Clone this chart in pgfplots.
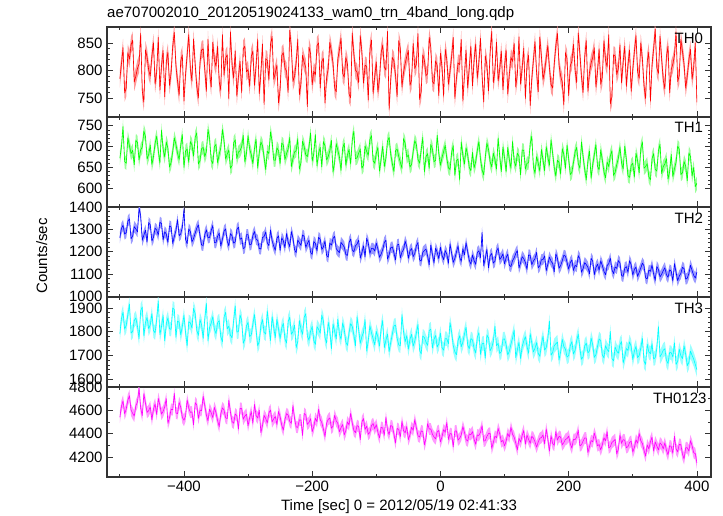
\documentclass[border=0pt]{standalone}
\usepackage{fontspec}
\setmainfont{Liberation Sans}
\usepackage{pgfplots}
\pgfplotsset{compat=1.18}
\usepgfplotslibrary{fillbetween}
\usepackage{pgfplotstable}
\pgfplotstableread{
t a b c d e
-500 785 672 1262 1790 4540
-497.5 812 699 1304 1855 4635
-495 842 748 1318 1882 4680
-492.5 759 664 1279 1811 4570
-490 768 660 1285 1826 4612
-487.5 833 721 1336 1872 4688
-485 821 702 1347 1915 4725
-482.5 847 683 1258 1794 4602
-480 856 691 1270 1801 4575
-477.5 779 656 1312 1847 4551
-475 790 715 1302 1858 4640
-472.5 804 710 1289 1823 4671
-470 812 668 1395 1770 4790
-467.5 868 692 1361 1888 4619
-465 763 699 1251 1904 4555
-462.5 742 737 1274 1782 4742
-460 838 724 1296 1839 4662
-457.5 825 670 1243 1860 4583
-455 801 681 1330 1812 4598
-452.5 790 703 1320 1829 4630
-450 827 657 1248 1876 4520
-447.5 851 676 1265 1804 4611
-445 775 708 1305 1795 4655
-442.5 798 725 1297 1851 4564
-440 861 690 1274 1930 4702
-437.5 764 660 1332 1787 4643
-435 809 739 1326 1822 4568
-432.5 837 694 1252 1868 4592
-430 752 675 1289 1761 4631
-427.5 816 711 1279 1834 4700
-425 834 696 1241 1858 4489
-422.5 773 651 1315 1812 4538
-420 796 662 1311 1810 4610
-417.5 845 688 1237 1899 4605
-415 870 721 1268 1893 4745
-412.5 808 705 1294 1776 4578
-410 781 684 1343 1844 4572
-407.5 755 669 1271 1840 4667
-405 818 703 1280 1787 4628
-402.5 829 729 1309 1822 4540
-400 744 650 1388 1869 4515
-397.5 793 689 1255 1797 4552
-395 829 694 1236 1740 4690
-392.5 866 662 1301 1842 4619
-390 803 712 1291 1837 4583
-387.5 781 704 1244 1815 4587
-385 858 677 1259 1898 4476
-382.5 812 722 1283 1876 4666
-380 771 733 1305 1806 4648
-377.5 750 658 1320 1784 4531
-375 815 666 1272 1851 4602
-372.5 838 695 1230 1829 4598
-370 840 698 1228 1772 4720
-367.5 802 676 1276 1853 4640
-365 762 688 1298 1920 4560
-362.5 857 741 1262 1763 4512
-360 797 719 1264 1818 4611
-357.5 770 667 1294 1836 4579
-355 852 659 1317 1863 4538
-352.5 819 700 1241 1809 4625
-350 808 705 1240 1792 4580
-347.5 845 661 1269 1838 4512
-345 779 682 1283 1846 4462
-342.5 764 697 1226 1779 4571
-340 866 741 1255 1757 4622
-337.5 792 715 1292 1861 4603
-335 823 670 1302 1881 4537
-332.5 829 682 1247 1812 4529
-330 748 692 1226 1823 4688
-327.5 871 648 1281 1785 4585
-325 811 654 1271 1774 4505
-322.5 786 709 1238 1847 4490
-320 836 716 1244 1908 4569
-317.5 753 671 1299 1798 4556
-315 789 687 1310 1801 4440
-312.5 817 690 1255 1870 4618
-310 760 700 1262 1850 4615
-307.5 840 727 1214 1751 4524
-305 845 663 1218 1768 4551
-302.5 798 684 1276 1824 4567
-300 802 726 1276 1839 4468
-297.5 771 694 1230 1779 4537
-295 826 681 1233 1786 4590
-292.5 836 659 1272 1832 4489
-290 773 695 1290 1872 4650
-287.5 809 718 1256 1808 4556
-285 857 648 1251 1740 4535
-282.5 758 686 1214 1759 4602
-280 795 711 1212 1826 4410
-277.5 849 702 1263 1851 4471
-275 738 674 1268 1797 4557
-272.5 822 645 1288 1790 4531
-270 819 689 1239 1888 4492
-267.5 783 683 1227 1822 4578
-265 848 735 1297 1763 4603
-262.5 863 713 1249 1864 4502
-260 784 668 1225 1818 4528
-257.5 796 667 1206 1775 4548
-255 810 697 1260 1853 4479
-252.5 741 690 1271 1811 4590
-250 765 659 1205 1771 4545
-247.5 828 708 1262 1816 4473
-245 833 704 1249 1835 4430
-242.5 805 669 1218 1770 4522
-240 799 683 1281 1752 4572
-237.5 760 694 1243 1842 4561
-235 874 722 1222 1861 4506
-232.5 843 652 1290 1789 4489
-230 780 671 1262 1800 4641
-227.5 790 687 1209 1827 4530
-225 814 690 1196 1733 4458
-222.5 857 719 1252 1758 4455
-220 756 646 1240 1847 4519
-217.5 776 661 1228 1811 4518
-215 828 713 1275 1789 4385
-212.5 815 700 1268 1860 4574
-210 806 680 1219 1876 4560
-207.5 734 676 1236 1781 4481
-205 843 698 1251 1764 4497
-202.5 831 733 1197 1802 4529
-200 774 665 1188 1822 4418
-197.5 799 683 1245 1763 4461
-195 792 729 1237 1746 4532
-192.5 846 654 1204 1821 4503
-190 851 684 1264 1810 4610
-187.5 768 698 1256 1794 4522
-185 817 651 1210 1869 4495
-182.5 823 712 1221 1845 4441
-180 741 702 1248 1775 4376
-177.5 787 668 1183 1752 4492
-175 803 676 1176 1839 4523
-172.5 852 690 1238 1806 4535
-170 835 715 1229 1728 4447
-167.5 814 639 1259 1833 4466
-165 769 662 1269 1801 4558
-162.5 761 707 1214 1770 4510
-160 822 691 1203 1853 4489
-157.5 838 675 1196 1789 4418
-155 860 643 1241 1768 4452
-152.5 795 696 1232 1837 4479
-150 788 708 1221 1809 4390
-147.5 824 655 1187 1756 4428
-145 812 680 1183 1742 4502
-142.5 757 693 1240 1796 4475
-140 750 658 1257 1834 4575
-137.5 869 716 1208 1822 4492
-135 830 737 1199 1786 4428
-132.5 801 671 1226 1741 4410
-130 797 673 1234 1863 4470
-127.5 778 684 1252 1808 4462
-125 864 694 1171 1751 4351
-122.5 835 648 1195 1779 4501
-120 777 655 1226 1797 4530
-117.5 810 702 1177 1851 4437
-115 808 688 1260 1718 4465
-112.5 746 679 1238 1762 4396
-110 839 717 1192 1825 4412
-107.5 856 726 1214 1795 4470
-105 758 666 1215 1770 4488
-102.5 789 660 1203 1744 4441
-100 816 684 1238 1801 4478
-97.5 761 698 1212 1778 4412
-95 785 641 1175 1739 4365
-92.5 833 670 1189 1812 4455
-90 847 701 1209 1847 4449
-87.5 806 652 1241 1733 4388
-85 801 672 1252 1764 4540
-82.5 872 713 1167 1790 4431
-80 729 722 1186 1716 4392
-77.5 784 681 1218 1755 4471
-75 824 659 1221 1790 4463
-72.5 818 640 1195 1824 4398
-70 791 690 1163 1828 4320
-67.5 752 694 1230 1771 4446
-65 855 676 1233 1745 4437
-62.5 841 662 1172 1740 4373
-60 770 648 1198 1872 4505
-57.5 797 719 1209 1799 4425
-55 813 708 1247 1758 4408
-52.5 826 675 1224 1783 4462
-50 837 680 1170 1726 4349
-47.5 773 651 1204 1768 4392
-45 782 657 1214 1789 4455
-42.5 850 688 1178 1739 4430
-40 804 714 1192 1761 4520
-37.5 812 705 1226 1794 4451
-35 868 669 1241 1830 4383
-32.5 747 660 1163 1722 4372
-30 761 692 1158 1707 4425
-27.5 829 722 1197 1781 4419
-25 819 639 1205 1775 4305
-22.5 791 676 1212 1756 4360
-20 794 683 1181 1742 4487
-17.5 861 648 1141 1805 4440
-15 843 705 1229 1811 4441
-12.5 780 694 1188 1731 4396
-10 776 664 1150 1768 4372
-7.5 818 667 1216 1784 4357
-5 809 727 1196 1735 4418
-2.5 754 683 1169 1750 4428
0 832 655 1220 1794 4330
2.5 807 674 1183 1732 4375
5 753 688 1164 1722 4436
7.5 839 703 1205 1771 4412
10 820 671 1189 1770 4498
12.5 775 649 1148 1749 4351
15 799 645 1235 1838 4402
17.5 826 686 1192 1798 4398
20 861 702 1152 1741 4288
22.5 749 631 1170 1715 4423
25 786 666 1198 1703 4425
27.5 814 670 1226 1763 4346
30 811 620 1174 1783 4361
32.5 857 711 1157 1737 4389
35 744 679 1213 1756 4462
37.5 792 658 1186 1790 4411
40 838 697 1240 1819 4350
42.5 768 680 1199 1744 4338
45 805 650 1161 1728 4399
47.5 845 642 1144 1771 4392
50 772 686 1185 1765 4418
52.5 820 649 1160 1729 4352
55 849 663 1143 1710 4310
57.5 786 691 1196 1776 4390
60 815 712 1204 1796 4385
62.5 859 670 1174 1705 4413
65 790 644 1287 1749 4470
67.5 743 632 1138 1752 4337
70 827 675 1170 1689 4342
72.5 811 708 1211 1786 4378
75 763 693 1128 1774 4401
77.5 834 664 1182 1720 4406
80 872 651 1192 1733 4275
82.5 778 684 1149 1759 4325
85 800 669 1157 1822 4380
87.5 852 646 1203 1741 4365
90 781 721 1216 1751 4445
92.5 803 676 1165 1708 4399
95 836 640 1175 1716 4331
97.5 765 699 1190 1768 4344
100 808 673 1146 1770 4296
102.5 838 640 1173 1745 4338
105 757 698 1189 1702 4402
107.5 794 668 1139 1718 4372
110 824 648 1133 1748 4455
112.5 817 712 1160 1773 4395
115 850 665 1172 1807 4370
117.5 771 653 1192 1691 4321
120 793 684 1205 1724 4262
122.5 862 677 1127 1755 4361
125 775 632 1150 1687 4329
127.5 805 692 1178 1738 4386
130 841 691 1168 1761 4428
132.5 749 646 1152 1779 4310
135 812 660 1121 1738 4388
137.5 828 661 1186 1709 4352
140 736 707 1183 1792 4318
142.5 785 725 1142 1752 4377
145 819 652 1158 1715 4364
147.5 853 636 1169 1730 4330
150 796 676 1197 1754 4285
152.5 761 661 1128 1709 4330
155 862 641 1137 1696 4361
157.5 826 693 1164 1747 4368
160 784 668 1165 1780 4390
162.5 799 642 1181 1722 4312
165 823 700 1115 1733 4442
167.5 846 675 1143 1769 4357
170 805 655 1176 1845 4251
172.5 775 716 1157 1701 4383
175 768 684 1148 1712 4317
177.5 812 650 1110 1741 4301
180 846 629 1190 1749 4418
182.5 868 667 1170 1756 4346
185 810 662 1126 1681 4378
187.5 790 634 1138 1716 4371
190 779 695 1159 1767 4305
192.5 737 681 1184 1737 4325
195 833 648 1180 1726 4352
197.5 822 703 1152 1693 4359
200 754 671 1122 1699 4380
202.5 809 633 1151 1741 4316
205 817 638 1163 1758 4277
207.5 848 662 1116 1706 4351
210 801 687 1139 1721 4350
212.5 778 698 1133 1762 4372
215 869 659 1182 1790 4430
217.5 831 648 1168 1728 4296
220 789 711 1108 1684 4306
222.5 760 676 1124 1694 4337
225 826 645 1151 1740 4365
227.5 855 621 1142 1752 4362
230 762 666 1130 1711 4240
232.5 797 689 1101 1719 4290
235 814 624 1170 1773 4342
237.5 824 657 1158 1745 4331
240 842 680 1097 1692 4405
242.5 770 705 1129 1703 4358
245 798 653 1144 1737 4297
247.5 840 644 1117 1770 4308
250 775 692 1159 1762 4262
252.5 788 668 1138 1702 4305
255 855 640 1112 1690 4366
257.5 819 625 1097 1741 4339
260 807 663 1138 1725 4418
262.5 866 652 1146 1716 4280
265 739 678 1171 1801 4290
267.5 752 690 1119 1686 4326
270 829 631 1102 1677 4337
272.5 827 638 1132 1735 4352
275 793 657 1125 1718 4228
277.5 804 672 1160 1709 4267
280 847 699 1150 1746 4390
282.5 778 661 1094 1758 4318
285 816 646 1089 1668 4350
287.5 845 701 1127 1695 4344
290 771 669 1133 1729 4281
292.5 811 630 1108 1721 4290
295 838 626 1160 1757 4325
297.5 762 655 1141 1738 4336
300 802 660 1095 1683 4244
302.5 835 627 1121 1718 4282
305 864 684 1131 1738 4348
307.5 798 666 1089 1691 4319
310 786 637 1108 1700 4402
312.5 851 695 1127 1731 4340
315 821 711 1149 1772 4316
317.5 772 648 1136 1676 4260
320 749 652 1083 1662 4208
322.5 817 659 1078 1747 4305
325 834 628 1117 1715 4270
327.5 744 620 1112 1707 4331
330 810 671 1140 1749 4371
332.5 840 683 1100 1685 4252
335 876 645 1072 1691 4330
337.5 805 641 1133 1730 4296
340 795 690 1120 1821 4262
342.5 863 706 1087 1694 4322
345 822 635 1099 1706 4306
347.5 783 652 1115 1722 4271
350 767 658 1128 1728 4322
352.5 826 671 1097 1679 4259
355 845 622 1085 1666 4220
357.5 759 640 1119 1713 4298
360 803 681 1112 1711 4291
362.5 812 628 1068 1694 4232
365 828 647 1146 1753 4378
367.5 871 662 1108 1662 4271
370 780 701 1070 1675 4245
372.5 791 694 1091 1726 4310
375 857 633 1103 1698 4305
377.5 835 637 1130 1687 4226
380 812 664 1124 1740 4186
382.5 768 653 1077 1705 4280
385 790 618 1081 1657 4280
387.5 820 685 1102 1671 4252
390 839 676 1139 1718 4340
392.5 784 629 1115 1700 4297
395 806 650 1094 1684 4238
397.5 851 604 1082 1662 4230
400 742 612 1108 1640 4150
}\lc

\definecolor{axgray}{gray}{0.2}
\definecolor{cR}{rgb}{1,0,0}
\definecolor{cG}{rgb}{0,1,0}
\definecolor{cB}{rgb}{0,0,1}
\definecolor{cC}{rgb}{0,1,1}
\definecolor{cM}{rgb}{1,0,1}
\newcommand{\lblfont}{\fontsize{15}{15}\selectfont}

\pgfplotsset{panel/.style={
  width=604pt, height=90pt, scale only axis,
  anchor=north west,
  xmin=-520, xmax=422,
  xtick={-400,-200,0,200,400},
  minor xtick={-500,-300,-100,100,300},
  xticklabels={},
  tick align=inside, xtick pos=both, ytick pos=both,
  major tick length=6pt, minor tick length=3pt,
  every tick/.style={axgray, line width=0.8pt},
  axis line style={axgray, line width=1.2pt},
  tick label style={font=\lblfont},
  /pgf/number format/assume math mode=true,
  /pgf/number format/set thousands separator={},
  yticklabel style={xshift=-1pt},
},
main/.style={line width=0.6pt, line join=round, color=#1},
}

\begin{document}
\begin{tikzpicture}
\path (0pt,0pt) rectangle (723pt,-516pt);

\node[anchor=base west, font=\lblfont, inner sep=0pt] at (107pt,-18pt) {ae707002010\_20120519024133\_wam0\_trn\_4band\_long.qdp};

\begin{axis}[panel, at={(107pt,-27pt)}, ymin=715, ymax=880, ytick={750,800,850}, minor y tick num=4]
\addplot[name path=u0, draw=none] table[x=t,y expr=\thisrow{a}+16]{\lc};
\addplot[name path=l0, draw=none] table[x=t,y expr=\thisrow{a}-16]{\lc};
\addplot[cR!40] fill between[of=u0 and l0];
\addplot[main=cR] table[x=t,y=a]{\lc};
\node[anchor=north east, font=\lblfont, inner sep=0pt] at (rel axis cs:0.987,0.94) {TH0};
\end{axis}

\begin{axis}[panel, at={(107pt,-117pt)}, ymin=555, ymax=771, ytick={600,650,700,750}, minor y tick num=4]
\addplot[name path=u1, draw=none] table[x=t,y expr=\thisrow{b}+16]{\lc};
\addplot[name path=l1, draw=none] table[x=t,y expr=\thisrow{b}-16]{\lc};
\addplot[cG!40] fill between[of=u1 and l1];
\addplot[main=cG] table[x=t,y=b]{\lc};
\node[anchor=north east, font=\lblfont, inner sep=0pt] at (rel axis cs:0.987,0.94) {TH1};
\end{axis}

\begin{axis}[panel, at={(107pt,-207pt)}, ymin=997, ymax=1400, ytick={1000,1100,1200,1300,1400}, minor y tick num=4]
\addplot[name path=u2, draw=none] table[x=t,y expr=\thisrow{c}+25]{\lc};
\addplot[name path=l2, draw=none] table[x=t,y expr=\thisrow{c}-25]{\lc};
\addplot[cB!40] fill between[of=u2 and l2];
\addplot[main=cB] table[x=t,y=c]{\lc};
\node[anchor=north east, font=\lblfont, inner sep=0pt] at (rel axis cs:0.987,0.94) {TH2};
\end{axis}

\begin{axis}[panel, at={(107pt,-297pt)}, ymin=1567, ymax=1946, ytick={1600,1700,1800,1900}, minor y tick num=4]
\addplot[name path=u3, draw=none] table[x=t,y expr=\thisrow{d}+30]{\lc};
\addplot[name path=l3, draw=none] table[x=t,y expr=\thisrow{d}-30]{\lc};
\addplot[cC!40] fill between[of=u3 and l3];
\addplot[main=cC] table[x=t,y=d]{\lc};
\node[anchor=north east, font=\lblfont, inner sep=0pt] at (rel axis cs:0.987,0.94) {TH3};
\end{axis}

\begin{axis}[panel, at={(107pt,-387pt)}, ymin=4030, ymax=4800, ytick={4200,4400,4600,4800}, minor y tick num=1,
  xticklabels={−400,−200,0,200,400}]
\addplot[name path=u4, draw=none] table[x=t,y expr=\thisrow{e}+50]{\lc};
\addplot[name path=l4, draw=none] table[x=t,y expr=\thisrow{e}-50]{\lc};
\addplot[cM!40] fill between[of=u4 and l4];
\addplot[main=cM] table[x=t,y=e]{\lc};
\node[anchor=north east, font=\lblfont, inner sep=0pt] at (rel axis cs:0.993,0.94) {TH0123};
\end{axis}

\node[anchor=base, font=\lblfont, inner sep=0pt] at (399pt,-510pt) {Time [sec] 0 = 2012/05/19 02:41:33};
\node[anchor=base, rotate=90, font=\lblfont, inner sep=0pt] at (47pt,-256pt) {Counts/sec};
\end{tikzpicture}
\end{document}
